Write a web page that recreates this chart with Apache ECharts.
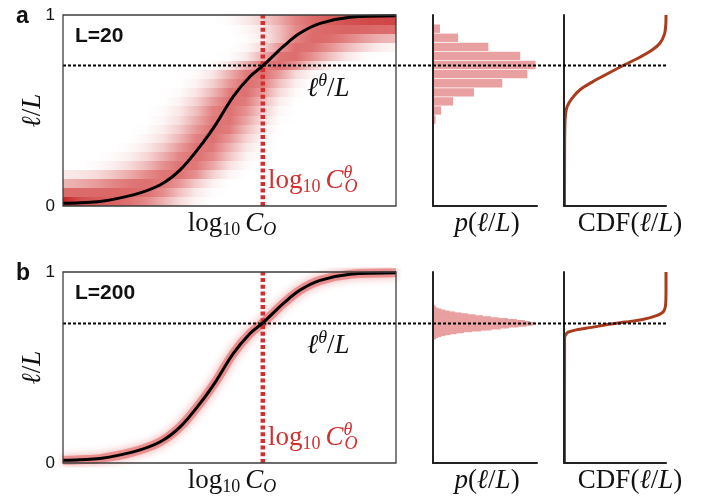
<!DOCTYPE html>
<html><head><meta charset="utf-8">
<script src="https://cdn.jsdelivr.net/npm/echarts@6/dist/echarts.min.js"></script>
<style>html,body{margin:0;padding:0;background:#fff}#c{width:701px;height:502px}</style>
</head><body><div id="c"></div>
<script>
// ---------------- data ----------------
// mean response curve: x = normalised log10 C_O, y = l/L
const curveX = [0, 0.05, 0.111, 0.211, 0.291, 0.351, 0.411, 0.461, 0.511, 0.561, 0.601, 0.661, 0.711, 0.772, 0.862, 1.0];
const curveY = [0.014, 0.017, 0.023, 0.058, 0.110, 0.188, 0.311, 0.433, 0.573, 0.677, 0.735, 0.834, 0.904, 0.956, 0.988, 0.996];
const thetaA = 0.735;      // l^theta / L, L=20
const thetaB = 0.73;       // l^theta / L, L=200
const logCTheta = 0.6;     // log10 C_O^theta (normalised)

// L=20 heat map: intensity (0..1) of each l-row (l = 0..20) at these x positions
const heatX = [0,0.05,0.1,0.15,0.2,0.25,0.3,0.35,0.4,0.45,0.5,0.55,0.6,0.65,0.7,0.75,0.8,0.85,0.9,0.95,1.0];
const heatRow0  = [1.0,0.78,0.7,0.64,0.56,0.45,0.3,0.14,0.04,0,0,0,0,0,0,0,0,0,0,0,0];
const heatRow1  = [0.6,0.6,0.61,0.62,0.62,0.57,0.44,0.24,0.08,0.01,0,0,0,0,0,0,0,0,0,0,0];
const heatRow2  = [0.28,0.32,0.38,0.46,0.53,0.57,0.53,0.4,0.2,0.05,0,0,0,0,0,0,0,0,0,0,0];
const heatRow3  = [0.08,0.1,0.14,0.22,0.32,0.44,0.54,0.56,0.42,0.18,0.04,0,0,0,0,0,0,0,0,0,0];
const heatRow4  = [0,0,0.02,0.06,0.14,0.26,0.42,0.55,0.52,0.34,0.12,0.02,0,0,0,0,0,0,0,0,0];
const heatRow5  = [0,0,0,0.02,0.06,0.15,0.3,0.47,0.57,0.45,0.22,0.05,0,0,0,0,0,0,0,0,0];
const heatRow6  = [0,0,0,0,0.02,0.08,0.2,0.38,0.56,0.52,0.3,0.1,0.01,0,0,0,0,0,0,0,0];
const heatRow7  = [0,0,0,0,0,0.04,0.12,0.28,0.48,0.57,0.4,0.17,0.03,0,0,0,0,0,0,0,0];
const heatRow8  = [0,0,0,0,0,0.01,0.07,0.2,0.4,0.57,0.5,0.26,0.07,0,0,0,0,0,0,0,0];
const heatRow9  = [0,0,0,0,0,0,0.04,0.13,0.32,0.52,0.55,0.35,0.12,0.01,0,0,0,0,0,0,0];
const heatRow10 = [0,0,0,0,0,0,0.02,0.09,0.25,0.48,0.57,0.42,0.18,0.03,0,0,0,0,0,0,0];
const heatRow11 = [0,0,0,0,0,0,0,0.05,0.17,0.38,0.57,0.5,0.27,0.07,0,0,0,0,0,0,0];
const heatRow12 = [0,0,0,0,0,0,0,0.02,0.1,0.28,0.5,0.57,0.38,0.14,0.02,0,0,0,0,0,0];
const heatRow13 = [0,0,0,0,0,0,0,0,0.05,0.18,0.4,0.58,0.48,0.24,0.06,0,0,0,0,0,0];
const heatRow14 = [0,0,0,0,0,0,0,0,0.02,0.1,0.3,0.52,0.58,0.38,0.14,0.03,0,0,0,0,0];
const heatRow15 = [0,0,0,0,0,0,0,0,0,0.02,0.1,0.3,0.52,0.58,0.42,0.2,0.05,0,0,0,0];
const heatRow16 = [0,0,0,0,0,0,0,0,0,0,0.01,0.08,0.3,0.55,0.58,0.42,0.25,0.1,0.02,0,0];
const heatRow17 = [0,0,0,0,0,0,0,0,0,0,0,0.03,0.15,0.4,0.58,0.55,0.42,0.28,0.16,0.07,0.03];
const heatRow18 = [0,0,0,0,0,0,0,0,0,0,0,0.01,0.07,0.25,0.48,0.6,0.58,0.48,0.38,0.3,0.26];
const heatRow19 = [0,0,0,0,0,0,0,0,0,0,0,0.03,0.1,0.25,0.45,0.58,0.62,0.64,0.62,0.6,0.58];
const heatRow20 = [0,0,0,0,0,0,0,0,0,0,0.02,0.08,0.18,0.32,0.48,0.6,0.68,0.74,0.78,0.8,0.82];

// histogram of l/L at the threshold, L=20 (21 bins, l = 0..20)
const histA = [0,0,0,0,0,0,0,0,0.0012,0.005,0.0156,0.039,0.080,0.135,0.184,0.200,0.170,0.108,0.049,0.0136,0];
// histogram, L=200 (201 bins): relative heights (% of peak) of bins 128..166
const histBFirstBin = 128;
const histB = [0.3,0.8,1.6,3,5,8,12,17,23,30,38,47,57,66,74,83,91,97.5,100,98.5,94.5,89.5,82,73,64,56.5,48.5,41.5,34,27.5,21.5,16,12,8.3,5.4,3.4,2.4,1.5,0.5];

// cumulative distributions (x = CDF, y = l/L)
const cdfAx = [0.005,0.006,0.008,0.013,0.03,0.08,0.16,0.28,0.40,0.57,0.73,0.86,0.94,0.985,0.998,1.0];
const cdfAy = [0,0.30,0.40,0.47,0.52,0.565,0.61,0.65,0.685,0.733,0.775,0.815,0.852,0.90,0.95,1.0];
const cdfBx = [0.005,0.006,0.015,0.04,0.12,0.27,0.44,0.60,0.76,0.90,0.975,0.997,1.0,1.0];
const cdfBy = [0,0.655,0.67,0.685,0.697,0.71,0.726,0.738,0.75,0.77,0.793,0.835,0.90,1.0];

// ---------------- helpers ----------------
const zip = (a, b) => a.map((v, i) => [v, b[i]]);
const heatRows = [heatRow0,heatRow1,heatRow2,heatRow3,heatRow4,heatRow5,heatRow6,heatRow7,heatRow8,heatRow9,heatRow10,
  heatRow11,heatRow12,heatRow13,heatRow14,heatRow15,heatRow16,heatRow17,heatRow18,heatRow19,heatRow20];
const nRowsA = heatRows.length;           // 21 bins of l/L
const catsA = heatRows.map((_, k) => String(k));
const catsB = Array.from({length: 201}, (_, k) => String(k));
const histBFull = catsB.map((_, k) => (k >= histBFirstBin && k < histBFirstBin + histB.length) ? histB[k - histBFirstBin] : 0);

function heatColor(t) {
  const w = [255,255,255], m = [225,124,124], e = [198,38,38];
  let c;
  if (t <= 0.5) { const u = t / 0.5; c = w.map((v, i) => v + (m[i] - v) * u); }
  else { const u = (t - 0.5) / 0.5; c = m.map((v, i) => v + (e[i] - v) * u); }
  return 'rgb(' + c.map(Math.round).join(',') + ')';
}
const heatGradients = heatRows.map(row => new echarts.graphic.LinearGradient(0, 0, 1, 0,
  row.map((t, i) => ({ offset: heatX[i], color: heatColor(t) }))));

const AX = '#222';
const SER = "'Liberation Serif','DejaVu Serif',serif";
const SANS = "'Liberation Sans','Arial',sans-serif";
const HIST = '#E8A0A0';
const CDFC = '#A83C1C';
const RED = '#D42F30';

function axisOn() {
  return { axisLine: { show: true, onZero: false, lineStyle: { color: AX, width: 2 } }, axisTick: { show: false },
    axisLabel: { show: false }, splitLine: { show: false }, z: 5 };
}
function gridsFor(top) {
  return [
    { left: 63, top: top, width: 333, height: 191, show: true, borderColor: '#3c3c3c', borderWidth: 1.3, backgroundColor: 'transparent', z: 10 },
    { left: 433, top: top, width: 104, height: 191 },
    { left: 564, top: top, width: 102, height: 191 },
    { left: 63, top: top, width: 603, height: 191 }
  ];
}
const grid = gridsFor(15).concat(gridsFor(272));

const xAxis = [];
[0, 4].forEach((g) => {
  xAxis.push({ gridIndex: g, type: 'value', min: 0, max: 1, show: false });
  xAxis.push(Object.assign({ gridIndex: g + 1, type: 'value', min: 0, max: g === 0 ? 0.2027 : 101.4 }, axisOn()));
  xAxis.push(Object.assign({ gridIndex: g + 2, type: 'value', min: 0, max: 1 }, axisOn()));
  xAxis.push({ gridIndex: g + 3, type: 'value', min: 0, max: 1, show: false });
});
const tickLab = { fontSize: 17, color: '#111', margin: 8, fontFamily: SANS };
const yAxis = [
  { gridIndex: 0, type: 'value', min: 0, max: 1, interval: 1, axisLine: { show: false }, axisTick: { show: false }, splitLine: { show: false }, axisLabel: tickLab },
  Object.assign({ gridIndex: 1, type: 'category', data: catsA }, axisOn()),
  Object.assign({ gridIndex: 2, type: 'value', min: 0, max: 1 }, axisOn()),
  { gridIndex: 3, type: 'value', min: 0, max: 1, show: false },
  { gridIndex: 4, type: 'value', min: 0, max: 1, interval: 1, axisLine: { show: false }, axisTick: { show: false }, splitLine: { show: false }, axisLabel: tickLab },
  Object.assign({ gridIndex: 5, type: 'category', data: catsB }, axisOn()),
  Object.assign({ gridIndex: 6, type: 'value', min: 0, max: 1 }, axisOn()),
  { gridIndex: 7, type: 'value', min: 0, max: 1, show: false }
];

const curve = zip(curveX, curveY);
const noSym = { showSymbol: false, symbol: 'none' };
function heatRender(params, api) {
  const k = api.value(0);
  const lo = api.coord([0, k / nRowsA]);
  const hi = api.coord([1, (k + 1) / nRowsA]);
  const yTop = Math.floor(hi[1]), yBot = Math.ceil(lo[1]);
  return { type: 'rect', shape: { x: lo[0], y: yTop, width: hi[0] - lo[0], height: yBot - yTop },
    style: { fill: heatGradients[k] } };
}
const series = [
  // ---- row a ----
  { type: 'custom', xAxisIndex: 0, yAxisIndex: 0, renderItem: heatRender, data: heatRows.map((_, k) => [k, k]),
    encode: { x: -1, y: -1 }, silent: true, z: 1 },
  Object.assign({ type: 'line', xAxisIndex: 0, yAxisIndex: 0, data: curve, smooth: 0.35, lineStyle: { color: '#000', width: 3 }, z: 4 }, noSym),
  Object.assign({ type: 'line', xAxisIndex: 0, yAxisIndex: 0, data: [[logCTheta, 0], [logCTheta, 1]],
    lineStyle: { color: RED, width: 4.5, type: [4, 2.7] }, z: 3 }, noSym),
  { type: 'bar', xAxisIndex: 1, yAxisIndex: 1, data: histA, barCategoryGap: '8%', itemStyle: { color: HIST }, z: 2 },
  Object.assign({ type: 'line', xAxisIndex: 2, yAxisIndex: 2, data: zip(cdfAx, cdfAy), smooth: 0.3, lineStyle: { color: CDFC, width: 3 }, z: 4 }, noSym),
  Object.assign({ type: 'line', xAxisIndex: 3, yAxisIndex: 3, data: [[0, thetaA], [1, thetaA]],
    lineStyle: { color: '#000', width: 2, type: [3, 2] }, z: 8 }, noSym),
  // ---- row b ----
  Object.assign({ type: 'line', xAxisIndex: 4, yAxisIndex: 4, data: curve, smooth: 0.35,
    lineStyle: { color: 'rgba(222,80,80,0.5)', width: 9, shadowBlur: 8, shadowColor: 'rgba(222,70,70,0.9)' }, z: 1 }, noSym),
  Object.assign({ type: 'line', xAxisIndex: 4, yAxisIndex: 4, data: curve, smooth: 0.35, lineStyle: { color: '#000', width: 3 }, z: 4 }, noSym),
  Object.assign({ type: 'line', xAxisIndex: 4, yAxisIndex: 4, data: [[logCTheta, 0], [logCTheta, 1]],
    lineStyle: { color: RED, width: 4.5, type: [4, 2.7] }, z: 3 }, noSym),
  { type: 'bar', xAxisIndex: 5, yAxisIndex: 5, data: histBFull, barCategoryGap: '0%', barWidth: '200%',
    itemStyle: { color: HIST }, z: 2 },
  Object.assign({ type: 'line', xAxisIndex: 6, yAxisIndex: 6, data: zip(cdfBx, cdfBy), smooth: 0.3, lineStyle: { color: CDFC, width: 3 }, z: 4 }, noSym),
  Object.assign({ type: 'line', xAxisIndex: 7, yAxisIndex: 7, data: [[0, thetaB], [1, thetaB]],
    lineStyle: { color: '#000', width: 2, type: [3, 2] }, z: 8 }, noSym)
];

// ---------------- text ----------------
function richSet(fill) {
  const B = 27, S = 18;
  return {
    r: { fontFamily: SER, fontSize: B, fill: fill, verticalAlign: 'middle' },
    i: { fontFamily: SER, fontSize: B, fontStyle: 'italic', fill: fill, verticalAlign: 'middle' },
    sp: { fontFamily: SER, fontSize: B, fill: fill, verticalAlign: 'middle', width: 5 },
    s: { fontFamily: SER, fontSize: S, fill: fill, padding: [13, 0, 0, 0], verticalAlign: 'middle' },
    si: { fontFamily: SER, fontSize: S, fontStyle: 'italic', fill: fill, padding: [13, 0, 0, 0], verticalAlign: 'middle' },
    sup: { fontFamily: SER, fontSize: S, fontStyle: 'italic', fill: fill, padding: [0, 0, 16, 0], verticalAlign: 'middle' },
    supz: { fontFamily: SER, fontSize: S, fontStyle: 'italic', fill: fill, padding: [0, 0, 16, 0], verticalAlign: 'middle', width: 1 }
  };
}
function mtext(x, y, text, align, fill, rot) {
  return { type: 'text', x: x, y: y, rotation: rot || 0, z: 20, silent: true,
    style: { text: text, rich: richSet(fill || '#111'), align: align, textAlign: align, verticalAlign: 'middle', textVerticalAlign: 'middle',
      fill: fill || '#111', fontFamily: SER, fontSize: 27 } };
}
function btext(x, y, text, size) {
  return { type: 'text', x: x, y: y, z: 20, silent: true,
    style: { text: text, fill: '#111', font: 'bold ' + size + 'px ' + SANS, align: 'left', textAlign: 'left', verticalAlign: 'middle', textVerticalAlign: 'middle' } };
}
const graphic = [];
[[0, 'a', 'L=20'], [257, 'b', 'L=200']].forEach(([dy, letter, lab]) => {
  graphic.push(btext(16, 17 + dy, letter, 23));
  graphic.push(btext(75, 36 + dy, lab, 21));
  graphic.push(mtext(232, 224 + dy, '{r|log}{s|10}{sp| }{i|C}{si|O}', 'center'));
  graphic.push(mtext(487, 224 + dy, '{i|p}{r|(}{i|ℓ}{r|/}{i|L}{r|)}', 'center'));
  graphic.push(mtext(630, 224 + dy, '{r|CDF(}{i|ℓ}{r|/}{i|L}{r|)}', 'center'));
  graphic.push(mtext(33, 110.5 + dy, '{i|ℓ}{r|/}{i|L}', 'center', '#111', Math.PI / 2));
  graphic.push(mtext(307, 89 + dy, '{i|ℓ}{sup|θ}{r|/}{i|L}', 'left'));
  graphic.push(mtext(268, 181 + dy, '{r|log}{s|10}{sp| }{i|C}{supz|θ}{si|O}', 'left', RED));
});

const chart = echarts.init(document.getElementById('c'), null, { renderer: 'canvas' });
chart.setOption({ animation: false, backgroundColor: '#fff', grid, xAxis, yAxis, series, graphic });
</script></body></html>
